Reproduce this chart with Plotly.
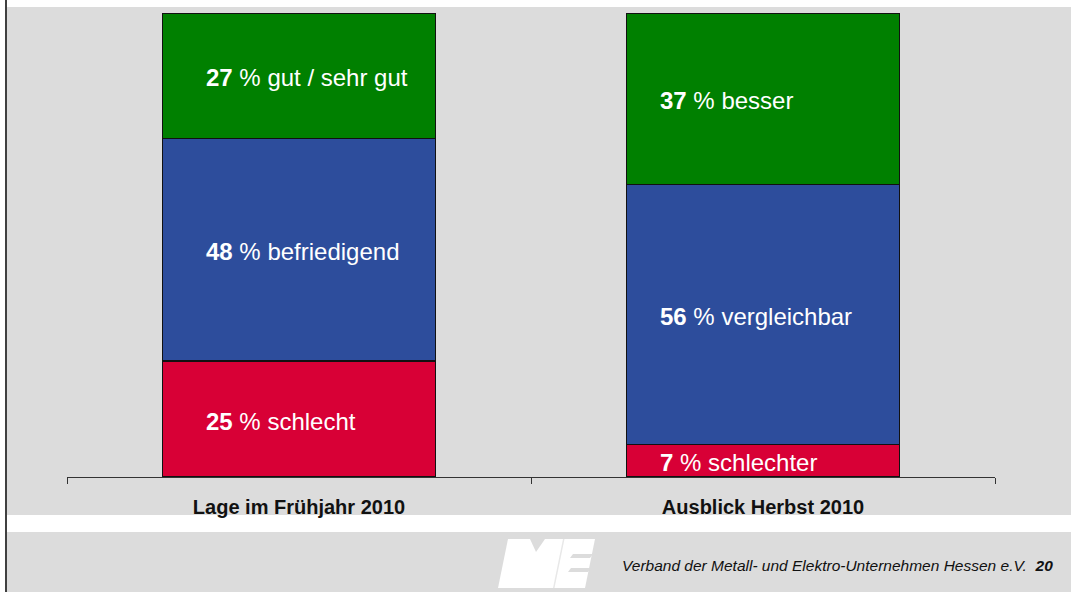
import plotly.graph_objects as go

# ---- data ----
categories = ["Lage im Frühjahr 2010", "Ausblick Herbst 2010"]
schlecht = [25, 7]
mittel = [48, 56]
gut = [27, 37]
labels_schlecht = ["schlecht", "schlechter"]
labels_mittel = ["befriedigend", "vergleichbar"]
labels_gut = ["gut / sehr gut", "besser"]
footer_text = "Verband der Metall- und Elektro-Unternehmen Hessen e.V."
page_no = "20"

# ---- style ----
W, H = 1071, 592
L, R, T, B = 67, 995, 13, 477
GRAY = "#DCDCDC"
RED, BLUE, GREEN = "#D80036", "#2D4D9C", "#008000"
FONT = "Liberation Sans, Arial, sans-serif"
label_xshift = [-95, -105]


def px(X):
    return (X - L) / (R - L)


def py(Y):
    return (B - Y) / (B - T)


fig = go.Figure()
series = [(schlecht, RED, labels_schlecht), (mittel, BLUE, labels_mittel), (gut, GREEN, labels_gut)]
for vals, col, _ in series:
    fig.add_trace(go.Bar(
        x=categories, y=vals, marker=dict(color=col, line=dict(color="#111111", width=1.4)),
        showlegend=False, hoverinfo="skip"))

annotations = []
base = [0, 0]
for vals, col, labs in series:
    for i, cat in enumerate(categories):
        mid = base[i] + vals[i] / 2
        annotations.append(dict(
            x=cat, y=mid, xref="x", yref="y", xanchor="left", yanchor="middle",
            xshift=label_xshift[i], yshift=-2, showarrow=False,
            text=f"<b>{vals[i]}</b> % {labs[i]}",
            font=dict(family=FONT, size=24, color="white")))
        base[i] += vals[i]

annotations.append(dict(
    x=px(1055), y=py(565), xref="paper", yref="paper", xanchor="right", yanchor="middle",
    showarrow=False, text=f"<i>{footer_text}  <b>{page_no}</b></i>",
    font=dict(family=FONT, size=15.5, color="#111111")))

shapes = [
    dict(type="rect", xref="paper", yref="paper", x0=px(7), x1=px(W + 2), y0=py(7), y1=py(515),
         fillcolor=GRAY, line=dict(width=0), layer="below"),
    dict(type="rect", xref="paper", yref="paper", x0=px(7), x1=px(W + 2), y0=py(532), y1=py(H + 2),
         fillcolor=GRAY, line=dict(width=0), layer="below"),
    dict(type="line", xref="paper", yref="paper", x0=px(6), x1=px(6), y0=py(-2), y1=py(H + 2),
         line=dict(color="black", width=1.5)),
]

# ME logo (decorative)
def poly(pts, color):
    d = "M " + " L ".join(f"{px(a)},{py(b)}" for a, b in pts) + " Z"
    return dict(type="path", xref="paper", yref="paper", path=d, fillcolor=color, line=dict(width=0))

shapes.append(poly([(508, 539), (595, 539), (585, 588), (498, 588)], "white"))
# E notches
shapes.append(poly([(573, 554), (593, 554), (590, 558), (570, 558)], GRAY))
shapes.append(poly([(571, 568), (591, 568), (588, 572), (568, 572)], GRAY))
# M/E separation
shapes.append(poly([(563, 539), (564.5, 539), (554.5, 588), (553, 588)], "#E8E8E8"))
# M notch
shapes.append(poly([(530, 539), (545, 539), (536, 552)], GRAY))

fig.update_layout(
    width=W, height=H,
    margin=dict(l=L, r=W - R, t=T, b=H - B, pad=0),
    paper_bgcolor="white", plot_bgcolor="rgba(0,0,0,0)",
    barmode="stack", bargap=0.412,
    annotations=annotations, shapes=shapes,
    xaxis=dict(showgrid=False, showline=True, linecolor="#333333", linewidth=1,
               ticks="outside", tickson="boundaries", ticklen=6, tickcolor="#333333",
               tickfont=dict(family=FONT, size=20, color="#111111"),
               ticklabelstandoff=12, fixedrange=True),
    yaxis=dict(range=[0, 100], visible=False, fixedrange=True),
    font=dict(family=FONT),
)
fig.update_xaxes(tickvals=categories, ticktext=[f"<b>{c}</b>" for c in categories])

fig.write_html("out.html", config={"displayModeBar": False},
               post_script="document.body.style.margin='0';document.body.style.overflow='hidden';")
